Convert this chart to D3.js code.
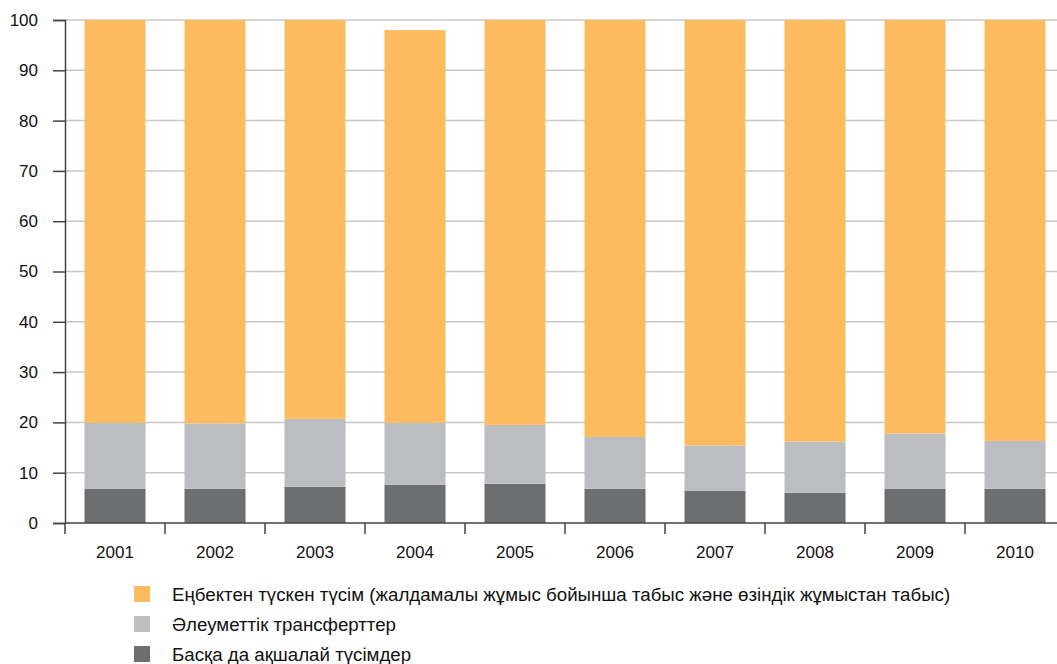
<!DOCTYPE html>
<html>
<head>
<meta charset="utf-8">
<script src="https://cdn.jsdelivr.net/npm/d3@7"></script>
<style>
  html, body { margin: 0; padding: 0; background: #fff; }
  svg { display: block; font-family: "Liberation Sans", Arial, sans-serif; }
</style>
</head>
<body>
<svg id="chart" width="1057" height="664"></svg>
<script>
// Income structure by year, percent
const years = ["2001", "2002", "2003", "2004", "2005", "2006", "2007", "2008", "2009", "2010"];
const otherCash = [6.8, 6.8, 7.2, 7.6, 7.8, 6.8, 6.4, 6.0, 6.8, 6.8];
const socialTransfers = [13.1, 13.0, 13.5, 12.3, 11.7, 10.3, 9.0, 10.2, 11.0, 9.5];
const labourIncome = [80.1, 80.2, 79.3, 78.1, 80.5, 82.9, 84.6, 83.8, 82.2, 83.7];
const yTicks = [0, 10, 20, 30, 40, 50, 60, 70, 80, 90, 100];
const seriesNames = [
  "Еңбектен түскен түсім (жалдамалы жұмыс бойынша табыс және өзіндік жұмыстан табыс)",
  "Әлеуметтік трансферттер",
  "Басқа да ақшалай түсімдер"
];
const colors = ["#FDBB5F", "#BCBDC1", "#6D6E70"];

const svg = d3.select("#chart");
const margin = { left: 65, top: 20, bottom: 523 };
const plotRight = 1065;
const tickFont = 17;
const legendFont = 18.7;

const x = d3.scaleBand().domain(years).range([margin.left, plotRight]).paddingInner(0.39).paddingOuter(0.195);
const band = d3.scaleBand().domain(years).range([margin.left, plotRight]);
const y = d3.scaleLinear().domain([0, 100]).range([margin.bottom, margin.top]);

// gridlines
svg.append("g").selectAll("line").data(yTicks.filter(d => d > 0)).join("line")
  .attr("x1", margin.left).attr("x2", 1057)
  .attr("y1", d => y(d)).attr("y2", d => y(d))
  .attr("stroke", "#c8c8c8").attr("stroke-width", 1.5);

// stacked bars (bottom to top: other, social, labour)
const rows = years.map((yr, i) => ({ year: yr, other: otherCash[i], social: socialTransfers[i], labour: labourIncome[i] }));
const stack = d3.stack().keys(["other", "social", "labour"]);
const layers = stack(rows);
const layerColors = { other: colors[2], social: colors[1], labour: colors[0] };

svg.append("g").selectAll("g").data(layers).join("g")
  .attr("fill", d => layerColors[d.key])
  .selectAll("rect").data(d => d).join("rect")
  .attr("x", d => x(d.data.year))
  .attr("width", x.bandwidth())
  .attr("y", d => y(d[1]))
  .attr("height", d => y(d[0]) - y(d[1]));

// y axis
const yAxis = svg.append("g").attr("transform", `translate(${margin.left},0)`)
  .call(d3.axisLeft(y).tickValues(yTicks).tickSize(12).tickPadding(15));
yAxis.select(".domain").attr("stroke", "#444").attr("stroke-width", 1.5);
yAxis.selectAll(".tick line").attr("stroke", "#444").attr("stroke-width", 1.5);
yAxis.selectAll("text").attr("font-size", tickFont).attr("fill", "#111")
  .attr("font-family", "Liberation Sans, Arial, sans-serif");

// x axis with ticks at band boundaries
const xAxisG = svg.append("g").attr("transform", `translate(0,${margin.bottom})`);
xAxisG.append("line").attr("x1", margin.left).attr("x2", 1057).attr("y1", 0).attr("y2", 0)
  .attr("stroke", "#444").attr("stroke-width", 1.5);
xAxisG.selectAll("line.tick").data(years).join("line").attr("class", "tick")
  .attr("x1", d => band(d)).attr("x2", d => band(d)).attr("y1", 0).attr("y2", 11)
  .attr("stroke", "#444").attr("stroke-width", 1.5);
xAxisG.selectAll("text").data(years).join("text")
  .attr("x", d => band(d) + band.bandwidth() / 2)
  .attr("y", 35)
  .attr("text-anchor", "middle")
  .attr("font-size", tickFont).attr("fill", "#111")
  .text(d => d);

// legend
const legend = svg.append("g").attr("transform", "translate(134,586)");
const items = legend.selectAll("g").data(seriesNames).join("g")
  .attr("transform", (d, i) => `translate(0,${i * 30})`);
items.append("rect").attr("width", 16).attr("height", 16).attr("fill", (d, i) => colors[i]);
items.append("text").attr("x", 38).attr("y", 14.5).attr("font-size", legendFont).attr("fill", "#111").text(d => d);
</script>
</body>
</html>
